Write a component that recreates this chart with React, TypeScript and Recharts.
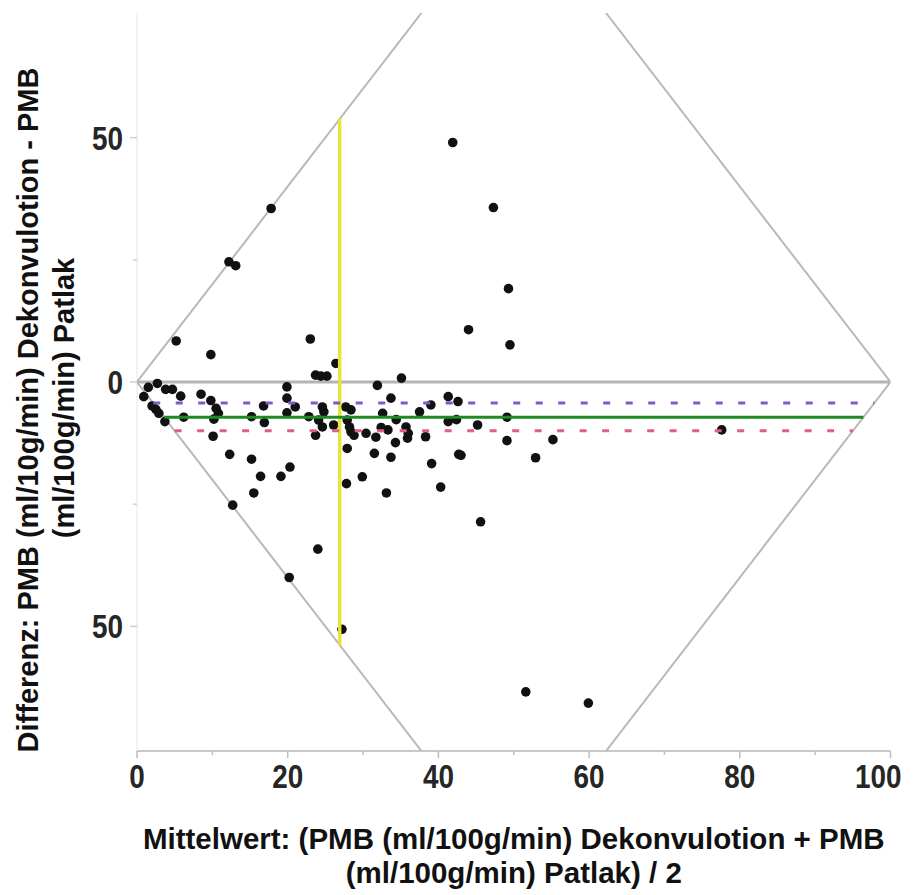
import React from 'react';
import { ScatterChart, Scatter, XAxis, YAxis } from 'recharts';

// Mittelwert (x) and Differenz (y) of each case
const means = [41.9, 47.3, 17.8, 49.3, 12.2, 13.1, 44.0, 5.2, 23.0, 9.8, 49.5, 26.4, 23.7, 24.4, 25.2, 35.1, 31.9, 1.5, 2.7, 3.8, 4.7, 0.9, 5.8, 2.0, 2.5, 2.9, 3.7, 6.2, 8.5, 9.8, 10.5, 10.8, 10.2, 10.1, 12.3, 15.2, 16.4, 19.1, 15.5, 12.7, 15.2, 16.9, 16.8, 19.9, 19.9, 19.9, 20.3, 21.0, 22.8, 24.6, 24.8, 24.1, 24.6, 23.7, 26.1, 27.7, 28.4, 27.9, 28.2, 28.4, 28.8, 30.4, 27.9, 31.7, 32.4, 33.3, 32.6, 33.7, 34.4, 35.7, 35.9, 36.0, 34.3, 31.5, 33.7, 38.3, 37.5, 39.0, 39.1, 29.9, 27.8, 33.1, 40.3, 42.7, 41.3, 42.6, 41.3, 42.4, 45.2, 49.1, 49.1, 55.2, 43.0, 52.9, 45.6, 77.6, 24.0, 20.2, 27.2, 51.6, 59.9];
const diffs = [49.0, 35.7, 35.5, 19.1, 24.6, 23.8, 10.7, 8.4, 8.8, 5.6, 7.6, 3.8, 1.4, 1.2, 1.2, 0.8, -0.7, -1.1, -0.3, -1.5, -1.5, -3.0, -2.9, -4.9, -5.6, -6.4, -8.1, -7.2, -2.5, -3.8, -5.4, -6.4, -7.6, -11.1, -14.8, -15.8, -19.3, -19.3, -22.7, -25.2, -7.1, -8.3, -4.9, -1.0, -3.3, -6.3, -17.4, -5.1, -7.1, -5.1, -6.1, -7.8, -9.2, -10.9, -8.8, -5.1, -5.7, -7.8, -9.2, -10.2, -10.9, -10.5, -13.6, -11.3, -9.3, -9.8, -6.4, -3.3, -7.7, -9.2, -11.5, -10.5, -12.4, -14.6, -15.4, -11.2, -6.1, -4.7, -16.7, -19.4, -20.8, -22.7, -21.5, -14.8, -3.0, -4.0, -8.1, -7.7, -8.8, -7.2, -12.0, -11.8, -15.0, -15.5, -28.6, -9.8, -34.2, -40.0, -50.6, -63.4, -65.7];

// Summary lines
const meanDifference = -7.2;
const ciUpper = -4.3;
const ciLower = -10.0;
const meanOfMeans = 26.9;

// Axes
const xTicks = [0, 10, 20, 30, 40, 50, 60, 70, 80, 90, 100];
const xLabelStep = 20;
const yTicks = [-50, -25, 0, 25, 50];
const yLabelStep = 50;
const X_MAX = 100;
const Y_LIMIT = 75.5;

const points = means.map((m, i) => ({ x: m, y: diffs[i] }));

// |d| <= 2 * min(m, 100 - m)
const diamond = [
  [{ x: 0, y: 0 }, { x: Y_LIMIT / 2, y: Y_LIMIT }],
  [{ x: 0, y: 0 }, { x: Y_LIMIT / 2, y: -Y_LIMIT }],
  [{ x: X_MAX, y: 0 }, { x: X_MAX - Y_LIMIT / 2, y: Y_LIMIT }],
  [{ x: X_MAX, y: 0 }, { x: X_MAX - Y_LIMIT / 2, y: -Y_LIMIT }],
];
const hSeg = (d: number) => [{ x: Math.abs(d) / 2, y: d }, { x: X_MAX - Math.abs(d) / 2, y: d }];
const vSeg = (m: number) => {
  const h = 2 * Math.min(m, X_MAX - m);
  return [{ x: m, y: -h }, { x: m, y: h }];
};
const zeroLine = [{ x: 0, y: 0 }, { x: X_MAX, y: 0 }];

const TICK_FONT = "'Liberation Sans', Arial, sans-serif";
const TITLE_FONT = "'Liberation Sans', Arial, sans-serif";

const NoShape = () => <g />;
const Dot = (p: any) => <circle cx={p.cx} cy={p.cy} r={4.8} fill="#111" />;

const NarrowText = ({ x, y, anchor, children }: any) => (
  <text
    transform={`translate(${x}, ${y}) scale(0.82, 1)`}
    x={0}
    y={0}
    textAnchor={anchor}
    fontFamily={TICK_FONT}
    fontWeight="bold"
    fontSize={34}
    fill="#262626"
  >
    {children}
  </text>
);

const XTick = (p: any) => {
  const { x, y, payload } = p;
  const major = payload.value % xLabelStep === 0;
  const last = payload.value === X_MAX;
  return (
    <g>
      <line x1={x} x2={x} y1={y} y2={y + (major ? 7 : 4)} stroke="#bdbdbd" strokeWidth={1.5} />
      {major && (
        <NarrowText x={last ? x + 11 : x} y={y + 37} anchor={last ? 'end' : 'middle'}>
          {payload.value}
        </NarrowText>
      )}
    </g>
  );
};

const YTick = (p: any) => {
  const { x, y, payload } = p;
  const major = payload.value % yLabelStep === 0;
  return (
    <g>
      <line x1={x} x2={x - (major ? 7 : 4)} y1={y} y2={y} stroke="#cfcfcf" strokeWidth={1.5} />
      {major && (
        <NarrowText x={x - 14} y={y + 12} anchor="end">
          {Math.abs(payload.value)}
        </NarrowText>
      )}
    </g>
  );
};

const XTitle = (p: any) => {
  const vb = p.viewBox;
  const cx = vb.x + vb.width / 2;
  return (
    <g fontFamily={TITLE_FONT} fontWeight="bold" fontSize={29.5} fill="#111">
      <text x={cx} y={vb.y + 98} textAnchor="middle">Mittelwert: (PMB (ml/100g/min) Dekonvulotion + PMB</text>
      <text x={cx} y={vb.y + 132} textAnchor="middle">(ml/100g/min) Patlak) / 2</text>
    </g>
  );
};

const YTitle = (p: any) => {
  const vb = p.viewBox;
  const cy = vb.y + vb.height / 2;
  const x1 = vb.x - 19;
  const y1 = cy + 28;
  const x2 = vb.x + 17;
  const y2 = cy + 16;
  return (
    <g fontFamily={TITLE_FONT} fontWeight="bold" fontSize={29} fill="#111">
      <text x={x1} y={y1} textAnchor="middle" transform={`rotate(-90, ${x1}, ${y1})`}>
        Differenz: PMB (ml/10g/min) Dekonvulotion - PMB
      </text>
      <text x={x2} y={y2} textAnchor="middle" transform={`rotate(-90, ${x2}, ${y2})`}>
        (ml/100g/min) Patlak
      </text>
    </g>
  );
};

export default function App() {
  return (
    <div style={{ width: 905, height: 887 }}>
      <ScatterChart width={905} height={887} margin={{ top: 5, right: 22.5, bottom: 84, left: 49 }}>
        <XAxis
          type="number"
          dataKey="x"
          domain={[0, X_MAX]}
          allowDataOverflow
          ticks={xTicks}
          interval={0}
          height={60}
          tickSize={0}
          tickMargin={0}
          tickLine={false}
          axisLine={{ stroke: '#c8c8c8', strokeWidth: 2 }}
          tick={<XTick />}
          label={{ content: XTitle }}
        />
        <YAxis
          type="number"
          dataKey="y"
          domain={[-Y_LIMIT, Y_LIMIT]}
          allowDataOverflow
          ticks={yTicks}
          interval={0}
          width={80}
          tickSize={0}
          tickMargin={0}
          tickLine={false}
          axisLine={{ stroke: '#e6e6e6', strokeWidth: 1 }}
          tick={<YTick />}
          label={{ content: YTitle }}
        />
        {diamond.map((seg, i) => (
          <Scatter key={'d' + i} data={seg} fill="#b8b8b8" line={{ stroke: '#b8b8b8', strokeWidth: 2 }} shape={NoShape} isAnimationActive={false} />
        ))}
        <Scatter data={zeroLine} fill="#b4b4b4" line={{ stroke: '#b4b4b4', strokeWidth: 3 }} shape={NoShape} isAnimationActive={false} />
        <Scatter data={points} fill="#111" shape={Dot} isAnimationActive={false} />
        <Scatter data={vSeg(meanOfMeans)} fill="#e6e63a" line={{ stroke: '#e6e63a', strokeWidth: 3.5 }} shape={NoShape} isAnimationActive={false} />
        <Scatter data={hSeg(ciUpper)} fill="#7b5cc8" line={{ stroke: '#7b5cc8', strokeWidth: 3, strokeDasharray: '7 15.5' }} shape={NoShape} isAnimationActive={false} />
        <Scatter data={hSeg(ciLower)} fill="#e0607e" line={{ stroke: '#e0607e', strokeWidth: 3, strokeDasharray: '7 15.5' }} shape={NoShape} isAnimationActive={false} />
        <Scatter data={hSeg(meanDifference)} fill="#1f8a25" line={{ stroke: '#1f8a25', strokeWidth: 3 }} shape={NoShape} isAnimationActive={false} />
      </ScatterChart>
    </div>
  );
}
